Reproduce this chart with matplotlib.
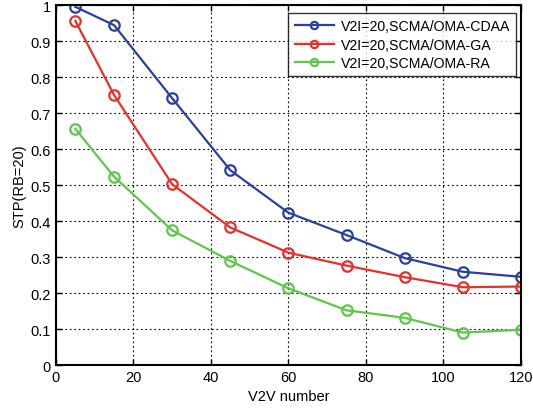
import matplotlib
matplotlib.use("Agg")
import matplotlib.pyplot as plt

plt.rcParams['font.family'] = ['Liberation Sans', 'DejaVu Sans']

v2v = [5, 15, 30, 45, 60, 75, 90, 105, 120]
cdaa = [0.995, 0.944, 0.741, 0.541, 0.423, 0.361, 0.297, 0.259, 0.245]
ga = [0.956, 0.750, 0.502, 0.382, 0.312, 0.276, 0.244, 0.216, 0.218]
ra = [0.656, 0.523, 0.374, 0.289, 0.213, 0.152, 0.131, 0.090, 0.098]
labels = ['V2I=20,SCMA/OMA-CDAA', 'V2I=20,SCMA/OMA-GA', 'V2I=20,SCMA/OMA-RA']
colors = ['#2b3f9e', '#e8302a', '#5cc84a']

fig = plt.figure(figsize=(5.33, 4.10), dpi=100)
ax = fig.add_axes([0.105, 0.1073, 0.8724, 0.878])

for ys, lab, c in zip([cdaa, ga, ra], labels, colors):
    ax.plot(v2v, ys, color=c, lw=1.6, marker='o', ms=7.5, mfc='none', mew=1.6, label=lab)

ax.set_xlim(0, 120)
ax.set_ylim(0, 1)
ax.set_xticks([0, 20, 40, 60, 80, 100, 120])
ax.set_yticks([0, 0.1, 0.2, 0.3, 0.4, 0.5, 0.6, 0.7, 0.8, 0.9, 1])
ax.set_yticklabels(['0', '0.1', '0.2', '0.3', '0.4', '0.5', '0.6', '0.7', '0.8', '0.9', '1'])
ax.grid(True, color='black', linestyle=(0, (1.5, 2.5)), linewidth=0.8)
ax.tick_params(direction='in', length=4, width=1, labelsize=10.5, top=True, right=True)
for s in ax.spines.values():
    s.set_linewidth(1.5)
ax.set_xlabel('V2V number', fontsize=10.5, labelpad=4)
ax.set_ylabel('STP(RB=20)', fontsize=10.5, labelpad=3)

leg = ax.legend(loc='upper right', bbox_to_anchor=(0.99, 0.978), fontsize=10.2, frameon=True,
                fancybox=False, edgecolor='black', handlelength=2.8, borderaxespad=0,
                labelspacing=0.3, borderpad=0.45, handletextpad=0.45, markerscale=0.7)
leg.get_frame().set_linewidth(1.0)

fig.savefig('out.png', dpi=100)
